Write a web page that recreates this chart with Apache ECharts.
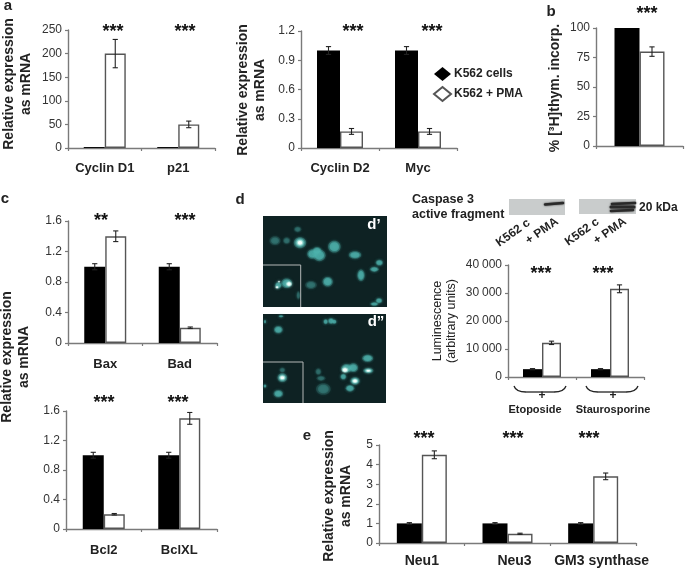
<!DOCTYPE html>
<html><head><meta charset="utf-8">
<style>html,body{margin:0;padding:0;background:#fff}#c{width:685px;height:568px}</style>
<script src="https://cdn.jsdelivr.net/npm/echarts@6/dist/echarts.min.js"></script>
</head><body><div id="c"></div>
<script>
const nameCtrl = 'K562 cells', namePma = 'K562 + PMA';

const catsA1 = ['Cyclin D1', 'p21'];
const ctrlA1 = [2, 2], pmaA1 = [200, 50];
const ctrlErrA1 = [0, 0], pmaErrA1 = [30, 7];

const catsA2 = ['Cyclin D2', 'Myc'];
const ctrlA2 = [1, 1], pmaA2 = [0.17, 0.17];
const ctrlErrA2 = [0.04, 0.04], pmaErrA2 = [0.03, 0.03];

const catsB = [''];
const ctrlB = [100], pmaB = [80];
const ctrlErrB = [0], pmaErrB = [4];

const catsC1 = ['Bax', 'Bad'];
const ctrlC1 = [1, 1], pmaC1 = [1.4, 0.2];
const ctrlErrC1 = [0.04, 0.04], pmaErrC1 = [0.07, 0.01];

const catsC2 = ['Bcl2', 'BclXL'];
const ctrlC2 = [1, 1], pmaC2 = [0.2, 1.5];
const ctrlErrC2 = [0.04, 0.04], pmaErrC2 = [0.01, 0.08];

const catsD = ['Etoposide', 'Staurosporine'];
const ctrlD = [2800, 2800], pmaD = [12200, 31500];
const ctrlErrD = [200, 200], pmaErrD = [600, 1400];

const catsE = ['Neu1', 'Neu3', 'GM3 synthase'];
const ctrlE = [1, 1, 1], pmaE = [4.5, 0.47, 3.4];
const ctrlErrE = [0.04, 0.04, 0.04], pmaErrE = [0.2, 0.03, 0.17];

const FONT = '"Liberation Sans", Arial, sans-serif';
const INK = '#222';

const panels = [
  {cats:catsA1, c:ctrlA1, p:pmaA1, ce:ctrlErrA1, pe:pmaErrA1, box:[68,30,147,118], max:250, step:50, bw:21, margin:14, fs:13},
  {cats:catsA2, c:ctrlA2, p:pmaA2, ce:ctrlErrA2, pe:pmaErrA2, box:[301,31,156,117], max:1.2, step:0.3, bw:23, margin:14, fs:13},
  {cats:catsB,  c:ctrlB,  p:pmaB,  ce:ctrlErrB,  pe:pmaErrB,  box:[596,28,87,118], max:100, step:25, bw:25, margin:14, fs:13},
  {cats:catsC1, c:ctrlC1, p:pmaC1, ce:ctrlErrC1, pe:pmaErrC1, box:[68,221,149,122], max:1.6, step:0.4, bw:21, margin:15, fs:13},
  {cats:catsC2, c:ctrlC2, p:pmaC2, ce:ctrlErrC2, pe:pmaErrC2, box:[66,411,151,118], max:1.6, step:0.4, bw:21, margin:15, fs:13},
  {cats:catsD,  c:ctrlD,  p:pmaD,  ce:ctrlErrD,  pe:pmaErrD,  box:[508,265,136,112], max:40000, step:10000, bw:19, margin:27, fs:11,
   fmt:v => v === 0 ? '0' : `{n|${v/1000}}{s| }{n|000}`, shift:{Etoposide:-14, Staurosporine:6}},
  {cats:catsE,  c:ctrlE,  p:pmaE,  ce:ctrlErrE,  pe:pmaErrE,  box:[379,445,257,98], max:5, step:1, bw:25, margin:11, fs:14,
   shift:{Neu3:14, 'GM3 synthase':17}},
];

const grid = [], xAxis = [], yAxis = [], series = [];
const axisLine = {show:true, lineStyle:{color:'#7a7a7a', width:1.4}};
const axisTick = {show:true, length:3, lineStyle:{color:'#7a7a7a', width:1.2}};

function errorSeries(i, values, errs, bw, side) {
  return {
    type:'custom', xAxisIndex:i, yAxisIndex:i, z:5, silent:true,
    data: values.map((v, k) => [k, v, errs[k]]),
    renderItem(params, api) {
      const k = api.value(0), v = api.value(1), e = api.value(2);
      if (!e) return null;
      const top = api.coord([k, v + e]), bot = api.coord([k, v - e]);
      const x = top[0] + side * bw / 2;
      const st = {stroke:'#222', lineWidth:1.1, fill:null};
      const cap = 2.6;
      return {type:'group', children:[
        {type:'line', shape:{x1:x, y1:top[1], x2:x, y2:bot[1]}, style:st},
        {type:'line', shape:{x1:x-cap, y1:top[1], x2:x+cap, y2:top[1]}, style:st},
        {type:'line', shape:{x1:x-cap, y1:bot[1], x2:x+cap, y2:bot[1]}, style:st},
      ]};
    }
  };
}

panels.forEach((p, i) => {
  grid.push({left:p.box[0], top:p.box[1], width:p.box[2], height:p.box[3]});
  const rich = {};
  if (p.shift) p.cats.forEach((c, k) => {
    const s = p.shift[c] || 0;
    rich['t'+k] = {fontFamily:FONT, fontSize:p.fs, fontWeight:'bold', color:INK,
      padding: s >= 0 ? [0,0,0,s] : [0,-s,0,0]};
  });
  xAxis.push({type:'category', gridIndex:i, data:p.cats, axisLine, axisTick,
    axisLabel:{margin:p.margin, fontFamily:FONT, fontSize:p.fs, fontWeight:'bold', color:INK, interval:0,
      rich, formatter:p.shift ? ((v, k) => `{t${k}|${v}}`) : undefined}});
  yAxis.push({type:'value', gridIndex:i, min:0, max:p.max, interval:p.step, splitLine:{show:false}, axisLine, axisTick,
    axisLabel:{margin:6, fontFamily:FONT, fontSize:12, color:'#333', formatter:p.fmt,
      rich:{n:{fontFamily:FONT, fontSize:12, color:'#333'}, s:{fontFamily:FONT, fontSize:10, color:'#333'}}}});
  series.push({type:'bar', name:nameCtrl, xAxisIndex:i, yAxisIndex:i, data:p.c, barWidth:p.bw, barGap:0,
    itemStyle:{color:'#000', borderColor:'#000', borderWidth:0}, silent:true});
  series.push({type:'bar', name:namePma, xAxisIndex:i, yAxisIndex:i, data:p.p, barWidth:p.bw, barGap:0,
    itemStyle:{color:'#fff', borderColor:'#555', borderWidth:1.4}, silent:true});
  series.push(errorSeries(i, p.c, p.ce, p.bw, -1));
  series.push(errorSeries(i, p.p, p.pe, p.bw, 1));
});

const g = [];
function txt(s, x, y, o = {}) {
  g.push({type:'text', x, y, rotation:o.rot || 0, silent:true, z:10,
    style:{text:s, x:0, y:0, align:o.align || 'center', verticalAlign:'middle',
      font:`${o.weight || 'normal'} ${o.size || 13}px ${FONT}`, fill:o.color || INK, lineHeight:o.lh}});
}
// axis titles
const V = Math.PI / 2;
const ttl = 'Relative expression\nas mRNA';
txt(ttl, 18, 84, {rot:V, size:14, weight:'bold', lh:17});
txt(ttl, 251.5, 90, {rot:V, size:14, weight:'bold', lh:17});
txt(ttl, 15.5, 357, {rot:V, size:14, weight:'bold', lh:17});
txt(ttl, 337.5, 496, {rot:V, size:14, weight:'bold', lh:17});
txt('% [\u00b3H]thym. incorp.', 555, 88, {rot:V, size:14, weight:'bold'});
txt('Luminescence\n(arbitrary units)', 445, 321, {rot:V, size:12.5, lh:14});
// panel letters
txt('a', 8, 6, {size:15, weight:'bold'});
txt('b', 551, 12, {size:15, weight:'bold'});
txt('c', 5, 199, {size:15, weight:'bold'});
txt('d', 240, 200, {size:15, weight:'bold'});
txt('e', 307, 436, {size:15, weight:'bold'});
// significance stars
[[113,29,'***'],[185,29,'***'],[353,29,'***'],[432,29,'***'],[647,11,'***'],
 [101,218,'**'],[185,218,'***'],[104,400,'***'],[178,400,'***'],
 [541,271,'***'],[603,271,'***'],[424,436,'***'],[513,436,'***'],[589,436,'***']]
 .forEach(s => txt(s[2], s[0], s[1] + 3, {size:18, weight:'bold', color:'#111'}));

// micrographs
const TEAL = '#4fb3ae';
function cell(ox, oy, c, color, op, scale, blur) {
  g.push({type:'ellipse', silent:true, z:2, shape:{cx:ox+c[0]/3, cy:oy+c[1]/3, rx:c[2]/3*scale, ry:c[3]/3*scale},
    style:{fill:color, opacity:op, shadowBlur:blur, shadowColor:color}});
}
function micro(x, y, w, h, ox, oy, dim, mid, bright, inset) {
  g.push({type:'rect', silent:true, z:1, shape:{x, y, width:w, height:h}, style:{fill:'#0e2223'}});
  dim.forEach(c => { cell(ox, oy, c, TEAL, 0.16, 1.1, 3); cell(ox, oy, c, TEAL, 0.22, 0.8, 3); });
  mid.forEach(c => { cell(ox, oy, c, TEAL, 0.32, 1.1, 3); cell(ox, oy, c, TEAL, 0.6, 0.82, 3); });
  bright.forEach(c => { cell(ox, oy, c, '#bff5ec', 0.5, 1.25, 3); cell(ox, oy, c, '#f2fffc', 0.95, 0.75, 2); });
  g.push({type:'polyline', silent:true, z:3, shape:{points:inset}, style:{stroke:'#b4b8b8', lineWidth:1, fill:null}});
}
micro(263, 216, 124, 91, 255, 210,
  [[60,92,15,12],[95,92,10,9],[128,58,10,8],[168,225,16,11],[130,256,5,12]],
  [[172,132,14,13],[193,136,17,16],[186,122,12,10],[238,110,17,16],[300,135,17,10],[318,196,10,16],[358,178,12,7],[373,158,10,8],[218,215,14,13],[372,272,9,7],[358,282,11,5],[135,98,17,15],[95,220,15,13],[70,226,9,9]],
  [[135,98,8,7],[102,222,7,6],[66,232,4,3],[72,215,3,2]],
  [[263,265],[300.7,265],[300.7,307]]);
micro(263, 314, 123, 89, 255, 305,
  [[190,200,8,9],[198,220,12,7],[205,252,20,16],[82,195,8,7]],
  [[70,74,12,10],[228,48,8,8],[212,50,6,7],[238,50,6,6],[30,50,3,5],[78,34,7,3],[338,160,15,10],[275,190,15,12],[295,188,13,12],[265,215,8,8],[340,197,14,7],[300,228,13,10],[285,250,12,9],[82,218,13,12],[30,243,4,5],[70,266,13,10]],
  [[82,218,7,5],[300,228,7,5],[270,195,8,6],[340,197,7,3]],
  [[263,362],[303,362],[303,403]]);
txt('d\u2019', 374, 225, {size:15, weight:'bold', color:'#fff'});
txt('d\u201d', 376, 322, {size:15, weight:'bold', color:'#fff'});

// western blots
g.push({type:'rect', silent:true, shape:{x:509, y:199, width:56, height:16}, style:{fill:'#c9cccc'}});
g.push({type:'rect', silent:true, shape:{x:579, y:199, width:57, height:15}, style:{fill:'#c9cccc'}});
[[545,204.5,563,203,2.4],[612,204,635,203,2.6],[611,207,634,207,3],[611,211,633,210,2.6]].forEach(b =>
  g.push({type:'line', silent:true, shape:{x1:b[0], y1:b[1], x2:b[2], y2:b[3]},
    style:{stroke:'#2a2a2a', lineWidth:b[4], lineCap:'round', shadowBlur:2, shadowColor:'#333'}}));
txt('Caspase 3\nactive fragment', 412, 207, {align:'left', size:12.5, weight:'bold', lh:15});
txt('20 kDa', 639, 208, {align:'left', size:12, weight:'bold'});
txt('K562 c', 513, 233, {rot:0.62, size:12, weight:'bold'});
txt('+ PMA', 542, 231, {rot:0.62, size:12, weight:'bold'});
txt('K562 c', 582, 232, {rot:0.62, size:12, weight:'bold'});
txt('+ PMA', 610, 231, {rot:0.62, size:12, weight:'bold'});

// treatment braces
function brace(x1, x2) {
  const st = {stroke:'#222', lineWidth:1.3, fill:null};
  g.push({type:'bezierCurve', silent:true, shape:{x1, y1:386, x2:x1+12, y2:392, cpx1:x1+2, cpy1:392}, style:st});
  g.push({type:'line', silent:true, shape:{x1:x1+12, y1:392, x2:x2-12, y2:392}, style:st});
  g.push({type:'bezierCurve', silent:true, shape:{x1:x2-12, y1:392, x2, y2:386, cpx1:x2-2, cpy1:392}, style:st});
}
brace(514, 566);
brace(586, 638);
txt('+', 542, 396, {size:12, weight:'bold'});
txt('+', 613, 396, {size:12, weight:'bold'});

const chart = echarts.init(document.getElementById('c'), null, {renderer:'canvas'});
chart.setOption({
  animation:false,
  backgroundColor:'#fff',
  grid, xAxis, yAxis, series,
  legend:{
    left:428, top:62, orient:'vertical', itemGap:5, itemWidth:17, itemHeight:14, selectedMode:false,
    data:[{name:nameCtrl, icon:'diamond'}, {name:namePma, icon:'diamond'}],
    textStyle:{fontFamily:FONT, fontSize:12, fontWeight:'bold', color:INK, padding:[0,0,0,-2]}
  },
  graphic:{elements:g}
});
</script></body></html>
